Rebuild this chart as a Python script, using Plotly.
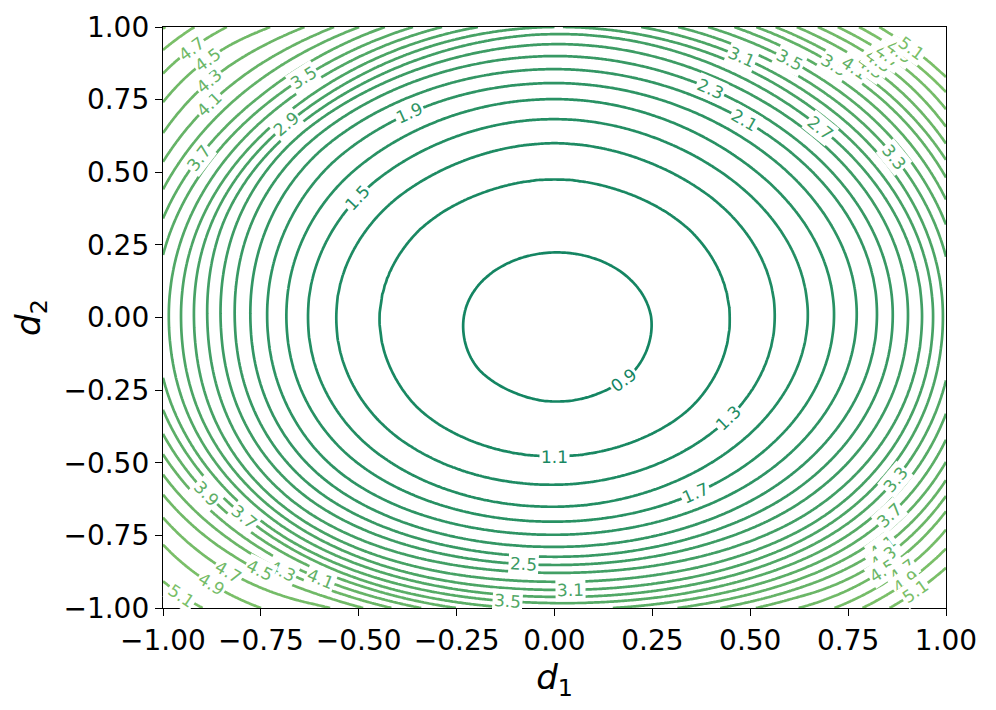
import numpy as np
import plotly.graph_objects as go

# contour levels shown in the chart
levels = [0.9, 1.1, 1.3, 1.5, 1.7, 1.9, 2.1, 2.3, 2.5, 2.7, 2.9,
          3.1, 3.3, 3.5, 3.7, 3.9, 4.1, 4.3, 4.5, 4.7, 4.9, 5.1]

# value at the bottom of the bowl
z_center = 0.72

# distance from (0, 0) at which each level is crossed, read along 8 rays
r_right = [0.247, 0.448, 0.563, 0.647, 0.714, 0.772, 0.824, 0.864, 0.903, 0.939, 0.967,
           0.992, 1.02, 1.045, 1.07, 1.095, 1.12, 1.14, 1.16, 1.18, 1.20, 1.22]
r_upright = [0.231, 0.46, 0.575, 0.655, 0.72, 0.78, 0.83, 0.87, 0.91, 0.943, 0.975,
             1.005, 1.035, 1.065, 1.095, 1.125, 1.15, 1.18, 1.21, 1.24, 1.27, 1.30]
r_up = [0.224, 0.476, 0.60, 0.683, 0.752, 0.807, 0.855, 0.90, 0.941, 0.976, 1.0,
        1.025, 1.05, 1.075, 1.10, 1.12, 1.14, 1.16, 1.18, 1.20, 1.22, 1.24]
r_upleft = [0.222, 0.46, 0.575, 0.655, 0.72, 0.78, 0.83, 0.87, 0.905, 0.93, 0.955,
            0.98, 1.01, 1.04, 1.07, 1.11, 1.15, 1.20, 1.255, 1.31, 1.36, 1.41]
r_left = [0.232, 0.447, 0.558, 0.630, 0.685, 0.734, 0.777, 0.817, 0.853, 0.887, 0.921,
          0.954, 0.985, 1.02, 1.05, 1.08, 1.11, 1.14, 1.17, 1.20, 1.23, 1.26]
r_downleft = [0.265, 0.47, 0.575, 0.65, 0.71, 0.765, 0.81, 0.85, 0.885, 0.92, 0.95,
              0.975, 1.0, 1.025, 1.045, 1.07, 1.095, 1.125, 1.16, 1.21, 1.27, 1.35]
r_down = [0.29, 0.479, 0.576, 0.652, 0.703, 0.748, 0.79, 0.824, 0.852, 0.879, 0.91,
          0.938, 0.962, 0.983, 1.005, 1.025, 1.045, 1.065, 1.085, 1.105, 1.125, 1.145]
r_downright = [0.276, 0.468, 0.565, 0.64, 0.705, 0.76, 0.81, 0.855, 0.895, 0.935, 0.97,
               1.0, 1.03, 1.06, 1.09, 1.12, 1.15, 1.18, 1.21, 1.245, 1.28, 1.32]

# inline contour labels: level and where it sits (d1, d2)
label_level = [0.9, 1.1, 1.3, 1.5, 1.7, 1.9, 2.1, 2.3, 2.5, 2.7, 2.9,
               3.1, 3.1, 3.3, 3.3, 3.5, 3.5, 3.5, 3.7, 3.7, 3.7,
               3.9, 3.9, 4.1, 4.1, 4.1, 4.1, 4.3, 4.3, 4.3, 4.3,
               4.5, 4.5, 4.5, 4.5, 4.7, 4.7, 4.7, 4.7, 4.9, 4.9, 4.9,
               5.1, 5.1, 5.1]
label_d1 = [0.167, 0.001, 0.443, -0.504, 0.364, -0.361, 0.479, 0.397, -0.080, 0.678, -0.683,
            0.479, 0.040, 0.888, 0.882, -0.650, 0.601, -0.121, -0.913, -0.778, 0.865,
            0.722, -0.880, -0.893, 0.773, -0.599, 0.839, -0.880, -0.701, 0.826, 0.839,
            -0.885, -0.760, 0.857, 0.834, -0.924, -0.837, 0.888, 0.875, -0.880, 0.921, 0.900,
            -0.956, 0.954, 0.928]
label_d2 = [-0.205, -0.480, -0.346, 0.411, -0.611, 0.687, 0.673, 0.783, -0.845, 0.652, 0.663,
            0.897, -0.938, 0.566, -0.566, 0.835, 0.886, -0.979, 0.553, -0.673, -0.687,
            0.880, -0.601, 0.742, 0.866, -0.904, -0.790, 0.811, -0.880, 0.880, -0.828,
            0.886, -0.880, 0.914, -0.869, 0.921, -0.880, 0.938, -0.859, -0.921, 0.955, -0.914,
            -0.962, 0.972, -0.948]

tick_vals = [-1.0, -0.75, -0.5, -0.25, 0.0, 0.25, 0.5, 0.75, 1.0]
tick_text = ['\u22121.00', '\u22120.75', '\u22120.50', '\u22120.25', '0.00',
             '0.25', '0.50', '0.75', '1.00']

low_rgb = (20, 133, 98)
high_rgb = (122, 191, 104)

rays = [r_right, r_upright, r_up, r_upleft, r_left, r_downleft, r_down, r_downright]
lv = np.array([z_center] + levels + [6.5])


def surface(x, y):
    """Field from the per-ray profiles, blended smoothly in angle (Catmull-Rom)."""
    x = np.asarray(x, dtype=float)
    y = np.asarray(y, dtype=float)
    r = np.hypot(x, y)
    a = np.mod(np.arctan2(y, x), 2 * np.pi)
    prof = np.array([np.interp(r, np.r_[0.0, rr, 1.7], lv) for rr in rays])
    u = a / (np.pi / 4)
    k = np.floor(u).astype(int) % 8
    t = u - np.floor(u)

    def p(j):
        return np.take_along_axis(prof, ((k + j) % 8)[None], axis=0)[0]

    p0, p1, p2, p3 = p(-1), p(0), p(1), p(2)
    return 0.5 * (2 * p1 + (p2 - p0) * t + (2 * p0 - 5 * p1 + 4 * p2 - p3) * t ** 2
                  + (3 * p1 - p0 - 3 * p2 + p3) * t ** 3)


def level_color(level):
    f = (level - levels[0]) / (levels[-1] - levels[0])
    c = [round(lo + (hi - lo) * f) for lo, hi in zip(low_rgb, high_rgb)]
    return 'rgb({},{},{})'.format(*c)


d1 = np.linspace(-1, 1, 301)
d2 = np.linspace(-1, 1, 301)
X, Y = np.meshgrid(d1, d2)
z = surface(X, Y)

fig = go.Figure(go.Contour(
    x=d1, y=d2, z=z,
    zauto=False, zmin=levels[0], zmax=levels[-1],
    autocontour=False,
    contours=dict(start=levels[0], end=levels[-1] + 0.05, size=0.2,
                  coloring='lines', showlabels=False),
    colorscale=[[0, level_color(levels[0])], [1, level_color(levels[-1])]],
    line=dict(width=2.7, smoothing=0.8),
    showscale=False,
    hoverinfo='skip',
))

# plot area is 783 x 581 px for 2 x 2 data units
sx, sy = 783 / 2, 581 / 2
h = 1e-4
annotations = []
for lev, lx, ly in zip(label_level, label_d1, label_d2):
    px, py = np.array([lx]), np.array([ly])
    for _ in range(8):  # put the label exactly on its contour
        gx = (surface(px + h, py) - surface(px - h, py)) / (2 * h)
        gy = (surface(px, py + h) - surface(px, py - h)) / (2 * h)
        step = (surface(px, py) - lev) / (gx ** 2 + gy ** 2)
        px = np.clip(px - step * gx, -0.99, 0.99)
        py = np.clip(py - step * gy, -0.99, 0.99)
    gx = (surface(px + h, py) - surface(px - h, py)) / (2 * h)
    gy = (surface(px, py + h) - surface(px, py - h)) / (2 * h)
    ang = np.degrees(np.arctan2(-gx[0] * sy, -gy[0] * sx))
    if ang > 90:
        ang -= 180
    elif ang <= -90:
        ang += 180
    annotations.append(dict(
        x=float(px[0]), y=float(py[0]), xref='x', yref='y',
        text=f'{lev:.1f}', showarrow=False, textangle=float(ang),
        font=dict(size=17, family='DejaVu Sans', color=level_color(lev)),
        bgcolor='white', borderpad=1,
    ))

axis_style = dict(
    range=[-1, 1], tickvals=tick_vals, ticktext=tick_text,
    ticks='outside', ticklen=7, tickwidth=1.3, tickcolor='black',
    showline=True, linecolor='black', linewidth=1.3, mirror=True,
    showgrid=False, zeroline=False, automargin=False,
)

# the page body adds an 8 px margin, so the figure is 8 px smaller each way
fig.update_layout(
    width=988, height=702,
    margin=dict(l=155, r=50, t=19, b=102),
    paper_bgcolor='white', plot_bgcolor='white',
    font=dict(family='DejaVu Sans', size=28, color='black'),
    xaxis=dict(axis_style, title=dict(text='<i>d</i><sub>1</sub>', standoff=8)),
    yaxis=dict(axis_style, title=dict(text='<i>d</i><sub>2</sub>', standoff=14)),
    annotations=annotations,
    showlegend=False,
)

fig.write_html("out.html")
